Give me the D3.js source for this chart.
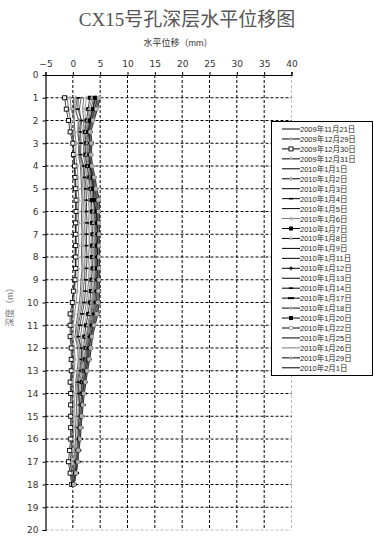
<!DOCTYPE html>
<html>
<head>
<meta charset="utf-8">
<script src="https://cdn.jsdelivr.net/npm/d3@7.9.0/dist/d3.min.js"></script>
<style>
  body { margin: 0; background: #fff; }
  svg { display: block; }
  text { font-family: "Liberation Sans", "Noto Sans CJK SC", sans-serif; }
</style>
</head>
<body>
<svg id="chart" width="374" height="541"></svg>
<script>
// === Data ===
const depths = [1,1.5,2,2.5,3,3.5,4,4.5,5,5.5,6,6.5,7,7.5,8,8.5,9,9.5,10,10.5,11,11.5,12,12.5,13,13.5,14,14.5,15,15.5,16,16.5,17,17.5,18];
const xTicks = [-5,0,5,10,15,20,25,30,35,40];
const yTicks = [0,1,2,3,4,5,6,7,8,9,10,11,12,13,14,15,16,17,18,19,20];

const seriesNames = [
  '2009年11月21日','2009年12月29日','2009年12月30日','2009年12月31日',
  '2010年1月1日','2010年1月2日','2010年1月3日','2010年1月4日','2010年1月5日',
  '2010年1月6日','2010年1月7日','2010年1月8日','2010年1月9日','2010年1月11日',
  '2010年1月12日','2010年1月13日','2010年1月14日','2010年1月17日','2010年1月18日',
  '2010年1月20日','2010年1月22日','2010年1月25日','2010年1月26日','2010年1月29日',
  '2010年2月1日'
];

const s0  = [0.2,0.1,0.3,0.2,0.1,0.2,0.3,0.4,0.4,0.5,0.5,0.4,0.5,0.4,0.4,0.5,0.3,0.1,0.0,-0.2,-0.3,-0.2,-0.1,-0.1,-0.2,-0.3,-0.2,-0.1,-0.2,-0.1,-0.2,-0.3,-0.4,-0.2,0.0];
const s1  = [-1.0,-0.8,-0.4,-0.2,0.1,0.2,0.4,0.5,0.6,0.7,0.8,0.7,0.6,0.7,0.6,0.6,0.5,0.3,0.2,0.0,-0.2,-0.3,0.0,0.1,0.0,-0.2,-0.1,0.0,-0.1,-0.2,-0.1,-0.2,-0.5,-0.3,-0.1];
const s2  = [-1.5,-1.2,-0.8,-0.5,0.0,0.1,0.3,0.4,0.5,0.6,0.6,0.5,0.5,0.5,0.5,0.5,0.4,0.1,-0.1,-0.5,-0.5,-0.5,-0.3,-0.3,-0.3,-0.5,-0.4,-0.4,-0.4,-0.4,-0.4,-0.6,-0.8,-0.5,-0.2];
const s3  = [-0.5,-0.3,0.2,0.4,0.6,0.5,0.8,0.9,1.0,1.1,1.0,1.1,1.0,1.1,1.0,1.0,0.9,0.8,0.6,0.3,0.1,0.0,0.3,0.4,0.3,0.0,0.2,0.3,0.2,0.2,0.1,0.0,-0.2,0.0,0.0];
const s4  = [0.8,0.5,1.0,0.9,1.1,1.0,1.4,1.5,1.6,1.7,1.6,1.6,1.7,1.6,1.6,1.7,1.5,1.4,1.2,0.9,0.6,0.4,0.9,1.0,0.8,0.5,0.6,0.7,0.6,0.5,0.5,0.3,0.2,0.1,0.0];
const s5  = [0.5,0.3,1.2,1.0,1.2,1.1,1.6,1.7,1.8,1.9,1.9,1.8,1.9,1.9,1.8,1.9,1.8,1.6,1.5,1.2,0.8,0.5,1.2,1.3,1.0,0.7,0.8,1.0,0.9,0.8,0.7,0.5,0.4,0.3,0.1];
const s6  = [1.5,1.2,1.5,1.1,1.3,1.2,1.9,2.0,2.1,2.2,2.3,2.2,2.2,2.3,2.2,2.2,2.1,1.9,1.8,1.4,1.0,0.8,1.5,1.5,1.2,0.8,1.0,1.2,1.1,1.0,0.9,0.7,0.5,0.3,0.1];
const s7  = [1.0,0.9,1.6,1.4,1.5,1.4,2.0,2.2,2.4,2.5,2.5,2.6,2.5,2.5,2.6,2.5,2.4,2.3,2.1,1.7,1.3,1.0,1.6,1.6,1.4,1.0,1.1,1.3,1.2,1.0,1.0,0.8,0.6,0.4,0.1];
const s8  = [2.0,1.8,2.0,1.8,2.0,1.9,2.3,2.5,2.7,2.9,3.0,2.9,3.0,3.0,2.9,3.0,2.9,2.7,2.5,2.1,1.7,1.4,1.8,1.8,1.6,1.3,1.3,1.4,1.3,1.1,1.0,0.8,0.6,0.4,0.1];
const s9  = [2.5,2.2,2.3,2.0,2.2,2.1,2.5,2.8,3.0,3.2,3.3,3.3,3.4,3.3,3.3,3.4,3.2,3.0,2.8,2.5,2.1,1.8,2.0,2.0,1.8,1.5,1.5,1.5,1.3,1.2,1.1,0.8,0.7,0.4,0.1];
const s10 = [3.1,2.8,2.5,2.2,2.4,2.3,2.6,3.0,3.2,3.4,3.5,3.5,3.6,3.5,3.5,3.6,3.4,3.3,3.1,2.8,2.4,2.1,2.3,2.2,2.0,1.6,1.6,1.6,1.5,1.3,1.2,0.9,0.7,0.5,0.1];
const s11 = [3.5,3.0,2.7,2.4,2.6,2.5,2.8,3.2,3.4,3.7,3.8,3.8,3.9,3.8,3.8,3.9,3.7,3.6,3.4,3.1,2.7,2.4,2.5,2.4,2.1,1.8,1.7,1.6,1.5,1.3,1.2,0.9,0.8,0.5,0.1];
const s12 = [3.8,3.3,2.9,2.6,2.8,2.7,3.0,3.3,3.6,3.9,4.0,4.0,4.1,4.0,4.0,4.1,4.0,3.8,3.6,3.3,2.9,2.6,2.6,2.5,2.2,1.9,1.8,1.6,1.5,1.3,1.2,1.0,0.8,0.5,0.1];
const s13 = [4.0,3.6,3.1,2.8,3.0,2.9,3.1,3.4,3.7,4.0,4.2,4.1,4.2,4.2,4.1,4.2,4.1,4.0,3.8,3.5,3.1,2.8,2.7,2.6,2.3,2.0,1.8,1.7,1.5,1.3,1.2,0.9,0.8,0.5,0.1];
const s14 = [4.2,3.7,3.2,2.9,3.1,3.0,3.2,3.5,3.8,4.2,4.3,4.3,4.4,4.3,4.3,4.4,4.3,4.2,4.0,3.7,3.3,3.0,2.8,2.7,2.4,2.1,1.9,1.7,1.6,1.4,1.2,1.0,0.8,0.5,0.2];
const s15 = [4.3,3.9,3.3,3.0,3.2,3.1,3.3,3.6,3.9,4.3,4.4,4.4,4.5,4.4,4.4,4.5,4.4,4.3,4.1,3.9,3.4,3.1,2.9,2.7,2.4,2.1,1.9,1.7,1.5,1.3,1.2,0.9,0.8,0.5,0.1];
const s16 = [4.5,4.0,3.4,3.0,3.2,3.1,3.3,3.7,4.0,4.4,4.5,4.5,4.6,4.5,4.5,4.6,4.5,4.4,4.3,4.0,3.6,3.2,3.0,2.8,2.5,2.2,1.9,1.7,1.6,1.4,1.3,1.0,0.8,0.6,0.2];
const s17 = [4.6,4.1,3.5,3.1,3.3,3.2,3.4,3.8,4.1,4.5,4.6,4.6,4.7,4.6,4.6,4.6,4.6,4.5,4.4,4.2,3.7,3.3,3.1,2.9,2.5,2.2,2.0,1.8,1.6,1.4,1.3,1.0,0.9,0.6,0.2];
const s18 = [4.7,4.2,3.6,3.1,3.3,3.2,3.4,3.8,4.1,4.6,4.6,4.7,4.7,4.7,4.7,4.7,4.7,4.6,4.5,4.3,3.8,3.4,3.2,2.9,2.6,2.3,2.0,1.8,1.6,1.4,1.3,1.0,0.9,0.6,0.2];
const s19 = [4.0,3.7,3.1,2.8,3.4,3.2,3.1,3.7,3.7,3.7,4.3,4.4,4.6,4.4,4.6,4.4,4.8,4.8,4.7,4.5,3.8,3.4,3.3,2.9,2.5,2.2,1.9,1.7,1.5,1.3,1.2,1.0,0.8,0.5,0.1];
const s20 = [4.8,4.3,3.7,3.2,3.4,3.3,3.5,3.9,4.2,4.7,4.7,4.8,4.8,4.8,4.8,4.8,4.8,4.7,4.6,4.4,3.9,3.5,3.3,3.0,2.6,2.3,2.0,1.8,1.6,1.4,1.3,1.0,0.9,0.6,0.2];
const s21 = [4.8,4.4,3.7,3.2,3.4,3.3,3.5,3.9,4.3,4.7,4.8,4.8,4.8,4.8,4.8,4.8,4.8,4.8,4.6,4.4,4.0,3.5,3.3,3.0,2.6,2.3,2.0,1.8,1.6,1.4,1.3,1.0,0.9,0.6,0.2];
const s22 = [4.9,4.4,3.8,3.2,3.4,3.3,3.5,4.0,4.3,4.8,4.8,4.8,4.8,4.8,4.8,4.8,4.8,4.8,4.7,4.5,4.0,3.5,3.3,3.0,2.6,2.3,2.0,1.8,1.6,1.4,1.3,1.0,0.9,0.6,0.2];
const s23 = [4.9,4.5,3.8,3.2,3.4,3.3,3.5,4.0,4.3,4.8,4.8,4.8,4.8,4.8,4.8,4.8,4.8,4.8,4.7,4.5,4.0,3.5,3.3,3.0,2.6,2.3,2.0,1.8,1.6,1.4,1.3,1.0,0.9,0.6,0.2];
const s24 = [5.0,4.5,3.9,3.3,3.5,3.4,3.6,4.1,4.4,4.9,4.9,4.9,4.9,4.9,4.9,4.9,4.9,4.9,4.8,4.6,4.1,3.6,3.4,3.1,2.7,2.4,2.1,1.9,1.7,1.5,1.4,1.1,0.9,0.6,0.2];

const seriesValues = [s0,s1,s2,s3,s4,s5,s6,s7,s8,s9,s10,s11,s12,s13,s14,s15,s16,s17,s18,s19,s20,s21,s22,s23,s24];

// marker type per series, as in the legend
const markerTypes = ['none','plus','sqOpen','tri','none','diamond','none','dash','none','star',
  'sqFill','tri','none','none','plusDark','none','dash','dashWide','plus','sqFill',
  'sqSmall','none','none','plus','none'];
const lineColors = ['#222','#555','#111','#666','#333','#777','#444','#222','#555','#888',
  '#111','#777','#333','#444','#222','#555','#333','#111','#777','#111',
  '#666','#333','#888','#777','#222'];

// === Layout ===
const svg = d3.select('#chart');
const x = d3.scaleLinear().domain([-5, 40]).range([45.5, 291.5]);
const y = d3.scaleLinear().domain([0, 20]).range([75, 530]);

// Title
svg.append('text')
  .attr('x', 187).attr('y', 26)
  .attr('text-anchor', 'middle')
  .attr('font-size', 19)
  .attr('fill', '#555')
  .style('font-family', '"Liberation Serif", "Noto Sans CJK SC", serif')
  .text('CX15号孔深层水平位移图');

// X axis title
svg.append('text')
  .attr('x', 178).attr('y', 46)
  .attr('text-anchor', 'middle')
  .attr('font-size', 9)
  .attr('fill', '#333')
  .text('水平位移（mm）');

// Y axis title
svg.append('text')
  .attr('transform', 'translate(13,305) rotate(-90)')
  .attr('text-anchor', 'middle')
  .attr('font-size', 9)
  .attr('fill', '#777')
  .text('深度（m）');

// === Grid ===
const grid = svg.append('g');
xTicks.filter(t => t > -5).forEach(t => {
  grid.append('line')
    .attr('x1', x(t)).attr('x2', x(t))
    .attr('y1', y(0)).attr('y2', y(20))
    .attr('stroke', t === 40 ? '#bbb' : '#000')
    .attr('stroke-width', 1)
    .attr('stroke-dasharray', '3,2');
});
yTicks.filter(t => t > 0).forEach(t => {
  grid.append('line')
    .attr('x1', x(-5)).attr('x2', x(40))
    .attr('y1', y(t)).attr('y2', y(t))
    .attr('stroke', t === 20 ? '#bbb' : '#000')
    .attr('stroke-width', 1)
    .attr('stroke-dasharray', '3,2');
});

// === Axes ===
const xAxis = svg.append('g')
  .attr('transform', `translate(0,${y(0)})`)
  .call(d3.axisTop(x).tickValues(xTicks).tickSize(3).tickPadding(5));
const yAxis = svg.append('g')
  .attr('transform', `translate(${x(-5)},0)`)
  .call(d3.axisLeft(y).tickValues(yTicks).tickSize(3).tickPadding(4));
[xAxis, yAxis].forEach(a => {
  a.select('.domain').attr('stroke', '#000').attr('stroke-width', 1.2);
  a.selectAll('.tick line').attr('stroke', '#000');
  a.selectAll('.tick text')
    .attr('font-size', 9)
    .attr('fill', '#333')
    .style('font-family', '"DejaVu Sans", sans-serif');
});

// === Series ===
const line = d3.line()
  .x(d => x(d[0]))
  .y(d => y(d[1]));

function drawMarker(g, type, cx, cy) {
  if (type === 'none') return;
  if (type === 'sqOpen') {
    g.append('rect').attr('x', cx - 2).attr('y', cy - 2).attr('width', 4).attr('height', 4)
      .attr('fill', '#fff').attr('stroke', '#000').attr('stroke-width', 0.9);
  } else if (type === 'sqSmall') {
    g.append('rect').attr('x', cx - 1.5).attr('y', cy - 1.5).attr('width', 3).attr('height', 3)
      .attr('fill', '#fff').attr('stroke', '#999').attr('stroke-width', 0.7);
  } else if (type === 'sqFill') {
    g.append('rect').attr('x', cx - 2).attr('y', cy - 2).attr('width', 4).attr('height', 4)
      .attr('fill', '#000');
  } else if (type === 'dash') {
    g.append('rect').attr('x', cx - 2).attr('y', cy - 0.8).attr('width', 4).attr('height', 1.6)
      .attr('fill', '#000');
  } else if (type === 'dashWide') {
    g.append('rect').attr('x', cx - 3).attr('y', cy - 1).attr('width', 6).attr('height', 2)
      .attr('fill', '#000');
  } else {
    const sym = { plus: d3.symbolCross, plusDark: d3.symbolCross, tri: d3.symbolTriangle,
      diamond: d3.symbolDiamond, star: d3.symbolStar }[type];
    g.append('path')
      .attr('transform', `translate(${cx},${cy})`)
      .attr('d', d3.symbol().type(sym).size(8)())
      .attr('fill', type === 'plusDark' ? '#000' : '#aaa');
  }
}

const plot = svg.append('g');
seriesValues.forEach((vals, i) => {
  const pts = vals.map((v, k) => [v, depths[k]]);
  plot.append('path')
    .attr('d', line(pts))
    .attr('fill', 'none')
    .attr('stroke', lineColors[i])
    .attr('stroke-width', 0.8);
});
seriesValues.forEach((vals, i) => {
  const g = plot.append('g');
  vals.forEach((v, k) => drawMarker(g, markerTypes[i], x(v), y(depths[k])));
});

// === Legend ===
const legend = svg.append('g');
legend.append('rect')
  .attr('x', 271.5).attr('y', 121.5)
  .attr('width', 101).attr('height', 254)
  .attr('fill', '#fff')
  .attr('stroke', '#000')
  .attr('stroke-width', 1);

seriesNames.forEach((name, i) => {
  const ly = 129 + i * 9.95;
  legend.append('line')
    .attr('x1', 282).attr('x2', 300)
    .attr('y1', ly).attr('y2', ly)
    .attr('stroke', lineColors[i] === '#888' ? '#777' : '#000')
    .attr('stroke-width', 1);
  drawMarker(legend, markerTypes[i], 291, ly);
  legend.append('text')
    .attr('x', 300).attr('y', ly + 3)
    .attr('font-size', 7.5)
    .attr('fill', '#222')
    .text(name);
});
</script>
</body>
</html>
